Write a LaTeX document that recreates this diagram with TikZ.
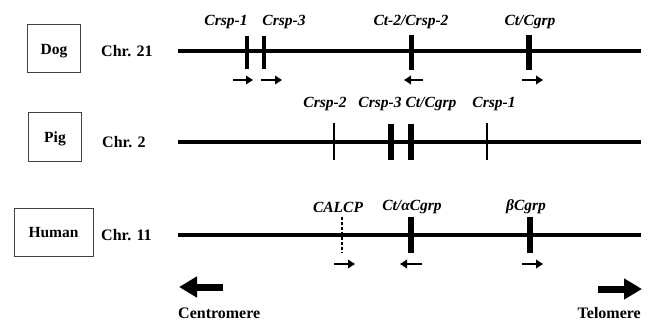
\documentclass[tikz,border=0pt]{standalone}
\usepackage{fontspec}
\setmainfont{Liberation Serif}
\usetikzlibrary{arrows.meta}
\begin{document}
\begin{tikzpicture}[x=1pt,y=-1pt,
  chrom/.style={line width=3.3pt},
  species/.style={draw=black!75,line width=1pt,minimum height=48pt,font=\bfseries\fontsize{15.5}{15.5}\selectfont,inner sep=0pt,text depth=0pt},
  chrlab/.style={font=\bfseries\fontsize{16}{16}\selectfont,anchor=west,inner sep=0pt},
  gene/.style={font=\bfseries\itshape\fontsize{15.5}{16}\selectfont,inner sep=0pt},
  thinbar/.style={line width=2.2pt},
  midbar/.style={line width=4pt},
  thickbar/.style={line width=6pt},
  dir/.style={line width=2pt,-{Triangle[length=7pt,width=8.5pt]}},
  big/.style={line width=7pt,-{Triangle[length=18pt,width=20pt]}},
  endlab/.style={font=\bfseries\fontsize{16}{16}\selectfont,inner sep=0pt}]
\useasboundingbox (0,0) rectangle (650,326);
% Dog
\node[species,minimum width=53pt] (dog) at (54,49) {Dog};
\node[chrlab] (c21) at (101,51) {Chr. 21};
\coordinate (d0) at (178,51); \coordinate (d1) at (641,51);
\draw[chrom] (d0) -- (d1);
\coordinate (dg1a) at (247,36); \coordinate (dg1b) at (247,69);
\coordinate (dg2a) at (264,36); \coordinate (dg2b) at (264,69);
\coordinate (dg3a) at (411,35); \coordinate (dg3b) at (411,70);
\coordinate (dg4a) at (529,35); \coordinate (dg4b) at (529,70);
\draw[midbar] (dg1a) -- (dg1b);
\draw[midbar] (dg2a) -- (dg2b);
\draw[thickbar,line width=5pt] (dg3a) -- (dg3b);
\draw[thickbar] (dg4a) -- (dg4b);
\node[gene] (l1) at (226,22) {Crsp-1};
\node[gene] (l2) at (284,22) {Crsp-3};
\node[gene] (l3) at (411,22) {Ct-2/Crsp-2};
\node[gene] (l4) at (530,22) {Ct/Cgrp};
\coordinate (da1) at (233,80); \coordinate (db1) at (253,80);
\coordinate (da2) at (261,80); \coordinate (db2) at (282,80);
\coordinate (da3) at (423,80); \coordinate (db3) at (404,80);
\coordinate (da4) at (522,80); \coordinate (db4) at (543,80);
\draw[dir] (da1) -- (db1);
\draw[dir] (da2) -- (db2);
\draw[dir] (da3) -- (db3);
\draw[dir] (da4) -- (db4);
% Pig
\node[species,minimum width=53pt] (pig) at (55,137) {Pig};
\node[chrlab] (c2) at (102,142) {Chr. 2};
\coordinate (p0) at (178,142); \coordinate (p1) at (641,142);
\draw[chrom] (p0) -- (p1);
\coordinate (pg1a) at (334,123); \coordinate (pg1b) at (334,160);
\coordinate (pg2a) at (391,124); \coordinate (pg2b) at (391,160);
\coordinate (pg3a) at (411,124); \coordinate (pg3b) at (411,160);
\coordinate (pg4a) at (487,123); \coordinate (pg4b) at (487,160);
\draw[thinbar] (pg1a) -- (pg1b);
\draw[thickbar] (pg2a) -- (pg2b);
\draw[thickbar,line width=5.5pt] (pg3a) -- (pg3b);
\draw[thinbar] (pg4a) -- (pg4b);
\node[gene] (m1) at (325,104) {Crsp-2};
\node[gene] (m2) at (380,104) {Crsp-3};
\node[gene] (m3) at (431,104) {Ct/Cgrp};
\node[gene] (m4) at (494,104) {Crsp-1};
% Human
\node[species,minimum width=79pt] (hum) at (53.5,232) {Human};
\node[chrlab] (c11) at (101,235) {Chr. 11};
\coordinate (h0) at (178,235); \coordinate (h1) at (641,235);
\draw[chrom] (h0) -- (h1);
\coordinate (hg1a) at (342,217); \coordinate (hg1b) at (342,253);
\coordinate (hg2a) at (411,217); \coordinate (hg2b) at (411,253);
\coordinate (hg3a) at (530,217); \coordinate (hg3b) at (530,253);
\draw[line width=1.2pt,dash pattern=on 3pt off 2pt] (hg1a) -- (hg1b);
\draw[thickbar] (hg2a) -- (hg2b);
\draw[thickbar] (hg3a) -- (hg3b);
\node[gene] (n1) at (338,207) {CALCP};
\node[gene] (n2) at (412,207) {Ct/αCgrp};
\node[gene] (n3) at (526,207) {βCgrp};
\coordinate (ha1) at (334,264); \coordinate (hb1) at (355,264);
\coordinate (ha2) at (422,264); \coordinate (hb2) at (400,264);
\coordinate (ha3) at (522,264); \coordinate (hb3) at (543,264);
\draw[dir] (ha1) -- (hb1);
\draw[dir] (ha2) -- (hb2);
\draw[dir] (ha3) -- (hb3);
% Ends
\coordinate (cs) at (223,287); \coordinate (ce) at (179,287);
\coordinate (ts) at (598,289); \coordinate (te) at (642,289);
\draw[big] (cs) -- (ce);
\draw[big] (ts) -- (te);
\node[endlab,anchor=west] (cen) at (178,313) {Centromere};
\node[endlab,anchor=east] (tel) at (641,313) {Telomere};
\end{tikzpicture}
\end{document}
